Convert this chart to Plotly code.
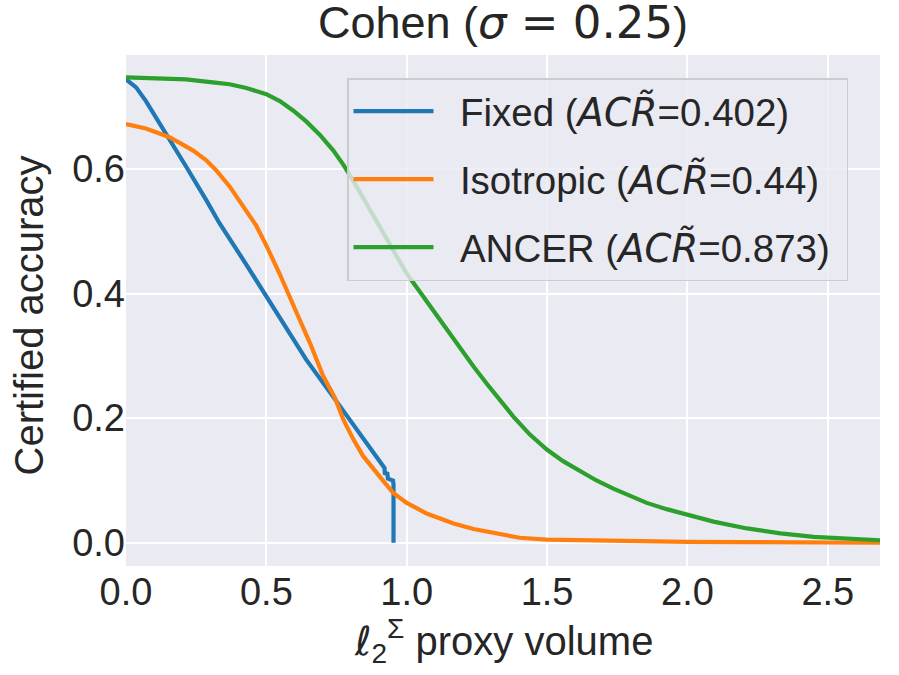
import plotly.graph_objects as go

# ---- data ----
FIXED_X = [0.0, 0.036, 0.071, 0.143, 0.214, 0.286, 0.333, 0.428, 0.523, 0.547, 0.642, 0.737, 0.832,
           0.917, 0.921, 0.922, 0.931, 0.933, 0.951, 0.953, 0.953]
FIXED_Y = [0.744, 0.731, 0.709, 0.657, 0.604, 0.550, 0.513, 0.447, 0.380, 0.363, 0.294, 0.235, 0.177,
           0.123, 0.120, 0.112, 0.111, 0.103, 0.100, 0.094, 0.0]

ISO_X = [0.0, 0.071, 0.155, 0.238, 0.286, 0.321, 0.369, 0.416, 0.464, 0.5, 0.548, 0.607, 0.655,
         0.702, 0.744, 0.774, 0.810, 0.845, 0.881, 0.917, 0.952, 1.0, 1.071, 1.167, 1.238,
         1.333, 1.402, 1.498, 1.736, 2.0, 2.212, 2.688]
ISO_Y = [0.672, 0.665, 0.651, 0.630, 0.614, 0.598, 0.572, 0.541, 0.509, 0.477, 0.431, 0.370, 0.321,
         0.268, 0.233, 0.198, 0.166, 0.139, 0.118, 0.099, 0.080, 0.064, 0.047, 0.031, 0.022,
         0.013, 0.008, 0.005, 0.003, 0.0015, 0.001, 0.0]

ANCER_X = [0.0, 0.095, 0.214, 0.309, 0.369, 0.429, 0.5, 0.548, 0.595, 0.643, 0.690, 0.738, 0.774,
           0.810, 0.845, 0.881, 0.929, 0.976, 1.0, 1.048, 1.095, 1.143, 1.190, 1.238, 1.286, 1.333,
           1.379, 1.438, 1.498, 1.557, 1.617, 1.676, 1.736, 1.795, 1.855, 1.926, 1.998, 2.093,
           2.212, 2.331, 2.450, 2.569, 2.688]
ANCER_Y = [0.747, 0.746, 0.744, 0.739, 0.736, 0.730, 0.720, 0.709, 0.694, 0.676, 0.655, 0.630, 0.607,
           0.581, 0.554, 0.525, 0.487, 0.450, 0.432, 0.402, 0.372, 0.342, 0.312, 0.283, 0.255, 0.228,
           0.203, 0.174, 0.150, 0.131, 0.115, 0.100, 0.087, 0.075, 0.064, 0.054, 0.045, 0.034,
           0.023, 0.015, 0.0095, 0.006, 0.004]

SERIES = [
    ("Fixed", "0.402", FIXED_X, FIXED_Y, "#1f77b4"),
    ("Isotropic", "0.44", ISO_X, ISO_Y, "#ff7f0e"),
    ("ANCER", "0.873", ANCER_X, ANCER_Y, "#2ca02c"),
]

X_TICKS = [0.0, 0.5, 1.0, 1.5, 2.0, 2.5]
Y_TICKS = [0.0, 0.2, 0.4, 0.6]

FONT = "Liberation Sans, Arial, sans-serif"
MATH = "DejaVu Sans"
TXT = "#262626"
NB = "\u00a0"

fig = go.Figure()
for i, (name, acr, xs, ys, col) in enumerate(SERIES):
    label = (f"{NB}{NB}{name} (<span style=\"font-family:{MATH}\"><i>ACR\u0303</i></span>"
             f"={acr}){NB}")
    fig.add_trace(go.Scatter(
        x=xs, y=ys, mode="lines", name=label, legendgroup=f"g{i}",
        line=dict(color=col, width=4.2),
    ))

W, H = 899, 675
L, R, T, B = 126, 19, 55, 109

fig.update_layout(
    width=W, height=H,
    margin=dict(l=L, r=R, t=T, b=B),
    paper_bgcolor="white",
    plot_bgcolor="#EAEAF2",
    font=dict(family=FONT, color=TXT, size=38),
    title=dict(
        text=f"Cohen (<span style=\"font-family:{MATH}\"><i>σ</i> = 0.25</span>)",
        x=0.5, xref="paper", xanchor="center",
        y=1 - 22 / H, yref="container", yanchor="middle",
        font=dict(size=45, color=TXT, family=FONT),
    ),
    showlegend=True,
    legend=dict(
        x=(347 - L) / (W - L - R), y=(H - B - 78) / (H - B - T),
        xanchor="left", yanchor="top",
        bgcolor="rgba(234,234,242,0.8)",
        bordercolor="#cccccc", borderwidth=1.5,
        font=dict(size=38.5, color=TXT, family=FONT),
        tracegroupgap=15,
        traceorder="grouped",
        itemwidth=80,
    ),
    xaxis=dict(
        range=[0, 2.686], tickvals=X_TICKS, ticktext=[f"{v:.1f}" for v in X_TICKS],
        showgrid=True, gridcolor="white", gridwidth=1.8,
        zeroline=False, showline=False, ticks="",
        tickfont=dict(size=38, color=TXT, family=FONT),
        automargin=False,
    ),
    yaxis=dict(
        range=[-0.0373, 0.783], tickvals=Y_TICKS, ticktext=[f"{v:.1f}" for v in Y_TICKS],
        showgrid=True, gridcolor="white", gridwidth=1.8,
        zeroline=False, showline=False, ticks="",
        tickfont=dict(size=38, color=TXT, family=FONT),
        automargin=False,
    ),
    annotations=[
        dict(
            text="Certified accuracy", textangle=-90,
            xref="paper", yref="paper", x=0, y=0.5,
            xanchor="center", yanchor="middle", xshift=-98, yshift=-5,
            showarrow=False, font=dict(size=40, color=TXT, family=FONT),
        ),
        dict(
            text=(f"<span style=\"font-family:{MATH}\"><i>ℓ</i></span>"
                  "<sub>2</sub><sup>Σ</sup> proxy volume"),
            xref="paper", yref="paper", x=0.5, y=0,
            xanchor="center", yanchor="middle", yshift=-75,
            showarrow=False, font=dict(size=40, color=TXT, family=FONT),
        ),
    ],
)

fig.write_html(
    "out.html",
    config={"displayModeBar": False},
    post_script="document.body.style.margin='0px';document.body.style.padding='0px';",
)
